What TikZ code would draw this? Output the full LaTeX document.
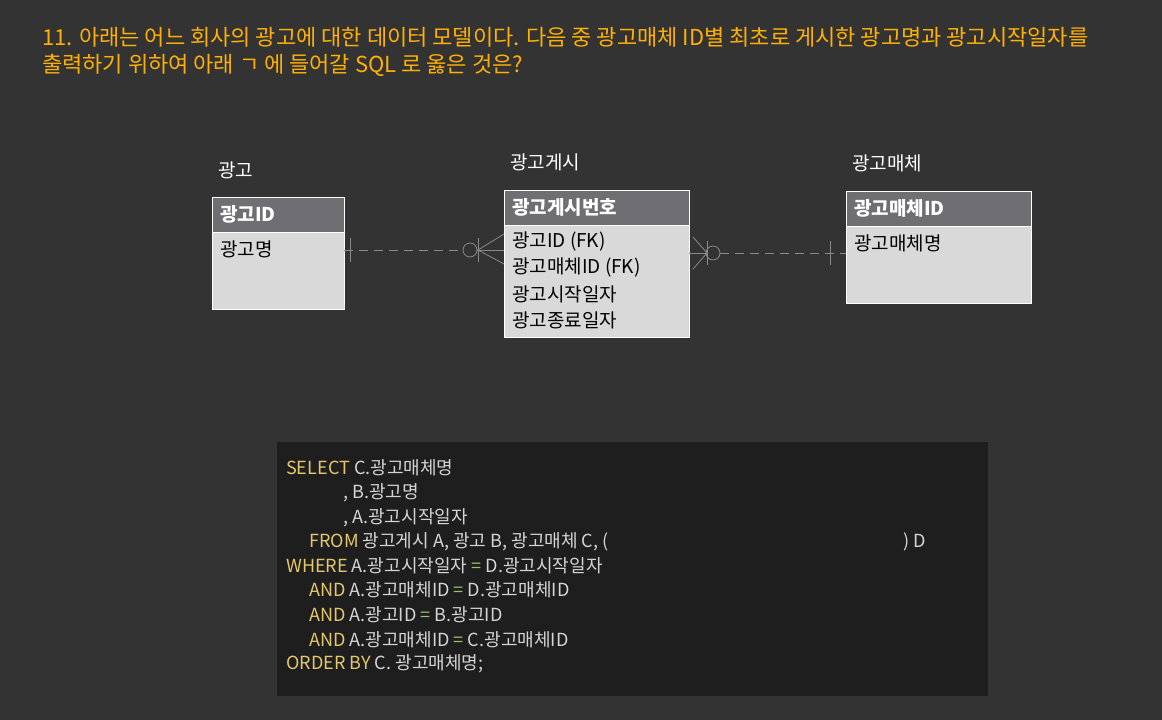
\documentclass[tikz,border=0pt]{standalone}
\usepackage{fontspec}
\setmainfont{Noto Sans CJK KR}
\newfontfamily\codefont{Noto Sans CJK KR}[Scale=0.95]
\definecolor{bgdark}{HTML}{333333}
\definecolor{titleor}{HTML}{FFB000}
\definecolor{headgray}{HTML}{6E6E73}
\definecolor{bodygray}{HTML}{D9D9D9}
\definecolor{codebg}{HTML}{1E1E1E}
\definecolor{kwyel}{HTML}{E5C76B}
\definecolor{codetx}{HTML}{D4D4D4}
\definecolor{eqgreen}{HTML}{9BC46A}
\definecolor{relgray}{HTML}{8A8A8A}
\usetikzlibrary{positioning}
\tikzset{
  title/.style={anchor=west, inner sep=0pt, text=titleor, font=\fontsize{22}{26}\selectfont},
  entname/.style={anchor=west, inner sep=0pt, text=white, font=\fontsize{19}{22}\selectfont},
  head/.style={draw=white, fill=headgray, line width=1pt},
  body/.style={draw=white, fill=bodygray, line width=1pt},
  headtx/.style={anchor=west, inner sep=0pt, text=white, font=\fontsize{19}{22}\selectfont\bfseries},
  bodytx/.style={anchor=west, inner sep=0pt, text=black, font=\fontsize{19}{22}\selectfont},
  rel/.style={draw=relgray, line width=0.8pt},
  code/.style={anchor=west, inner sep=0pt, text=codetx, font=\codefont\fontsize{19}{22}\selectfont},
}
\newcommand{\kw}[1]{\textcolor{kwyel}{#1}}
\newcommand{\eq}{\textcolor{eqgreen}{=}}
\begin{document}
\begin{tikzpicture}[x=1pt,y=-1pt]
  \fill[bgdark] (0,0) rectangle (1162,720);
  \useasboundingbox (0,0) rectangle (1162,720);
  % question
  \node[title] (q1) at (42,37) {11. 아래는 어느 회사의 광고에 대한 데이터 모델이다. 다음 중 광고매체 ID별 최초로 게시한 광고명과 광고시작일자를};
  \node[title] (q2) at (42,65) {출력하기 위하여 아래 ㄱ 에 들어갈 SQL 로 옳은 것은?};
  % entities
  \node[entname] (nAd) at (218,170) {광고};
  \node[entname] (nPost) at (510,162) {광고게시};
  \node[entname] (nMedia) at (852,163) {광고매체};
  \draw[body] (212,232) rectangle (344,309);
  \draw[head] (212,197) rectangle (344,232);
  \draw[body] (504,225) rectangle (689,337);
  \draw[head] (504,190) rectangle (689,225);
  \draw[body] (846,226) rectangle (1031,303);
  \draw[head] (846,191) rectangle (1031,226);
  \node[headtx] (adId) at (220,214) {광고ID};
  \node[bodytx] (adName) at (220,249) {광고명};
  \node[headtx] (postNo) at (512,207) {광고게시번호};
  \node[bodytx] (postA) at (512,242) {광고ID (FK)};
  \node[bodytx] (postB) at (512,268) {광고매체ID (FK)};
  \node[bodytx] (postC) at (512,294) {광고시작일자};
  \node[bodytx] (postD) at (512,320) {광고종료일자};
  \node[headtx] (mediaId) at (854,208) {광고매체ID};
  \node[bodytx] (mediaName) at (854,243) {광고매체명};
  % relationships
  \coordinate (r1a) at (344,250);
  \coordinate (r1b) at (504,250);
  \coordinate (r2a) at (689,253);
  \coordinate (r2b) at (846,253);
  \draw[rel, dash pattern=on 9pt off 6pt] (r1a) -- (463,250);
  \draw[rel] (477,250) -- (r1b);
  \draw[rel] (350,238) -- (350,262);
  \draw[rel] (470,250) circle (7);
  \draw[rel] (478,238) -- (478,262);
  \draw[rel] (504,234) -- (478,250) -- (504,264);
  \draw[rel] (r2a) -- (706,253);
  \draw[rel, dash pattern=on 9pt off 6pt] (720,253) -- (r2b);
  \draw[rel] (693,237) -- (707,253) -- (693,269);
  \draw[rel] (707,241) -- (707,265);
  \draw[rel] (713,253) circle (7);
  \draw[rel] (830,241) -- (830,265);
  % sql
  \fill[codebg] (277,442) rectangle (988,696);
  \node[code] (c1) at (286,468) {\kw{SELECT} C.광고매체명};
  \node[code] (c2) at (343,493) {, B.광고명};
  \node[code] (c3) at (343,518) {, A.광고시작일자};
  \node[code] (c4) at (309,542) {\kw{FROM} 광고게시 A, 광고 B, 광고매체 C, (};
  \node[code] (c4r) at (903,542) {) D};
  \node[code] (c5) at (286,566) {\kw{WHERE} A.광고시작일자 \eq{} D.광고시작일자};
  \node[code] (c6) at (309,590) {\kw{AND} A.광고매체ID \eq{} D.광고매체ID};
  \node[code] (c7) at (309,615) {\kw{AND} A.광고ID \eq{} B.광고ID};
  \node[code] (c8) at (309,640) {\kw{AND} A.광고매체ID \eq{} C.광고매체ID};
  \node[code] (c9) at (286,664) {\kw{ORDER BY} C. 광고매체명;};
\end{tikzpicture}
\end{document}
